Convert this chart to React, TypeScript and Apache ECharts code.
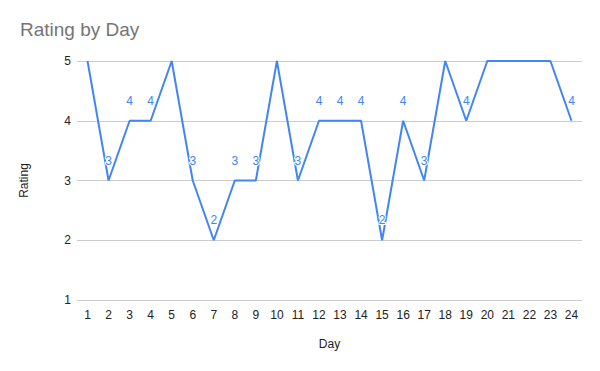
import React, { useEffect, useRef } from "react";
import * as echarts from "echarts";

const days = ["1","2","3","4","5","6","7","8","9","10","11","12","13","14","15","16","17","18","19","20","21","22","23","24"];
const ratings = [5,3,4,4,5,3,2,3,3,5,3,4,4,4,2,4,3,5,4,5,5,5,5,4];
const yTicks = [1, 2, 3, 4, 5];

export default function App() {
  const ref = useRef<HTMLDivElement>(null);
  useEffect(() => {
    const chart = echarts.init(ref.current!, null, { renderer: "svg" });
    const font = "Arial, 'Liberation Sans', sans-serif";
    chart.setOption({
      animation: false,
      backgroundColor: "#fff",
      title: {
        text: "Rating by Day",
        left: 15,
        top: 15,
        textStyle: { fontFamily: font, fontSize: 19, fontWeight: "normal", color: "#757575" },
      },
      grid: { left: 77, right: 18, top: 61, bottom: 71 },
      xAxis: {
        type: "category",
        data: days,
        boundaryGap: true,
        name: "Day",
        nameLocation: "middle",
        nameGap: 38,
        nameTextStyle: { fontFamily: font, fontSize: 12, color: "#222" },
        axisLine: { show: false },
        axisTick: { show: false },
        axisLabel: { fontFamily: font, fontSize: 12, color: "#222", margin: 9, interval: 0 },
      },
      yAxis: {
        type: "value",
        min: yTicks[0],
        max: yTicks[yTicks.length - 1],
        interval: 1,
        name: "Rating",
        nameLocation: "middle",
        nameGap: 47,
        nameTextStyle: { fontFamily: font, fontSize: 12, color: "#222" },
        axisLine: { show: false },
        axisTick: { show: false },
        axisLabel: { fontFamily: font, fontSize: 12, color: "#222", margin: 6 },
        splitLine: { lineStyle: { color: "#cccccc", width: 1 } },
      },
      series: [
        {
          type: "line",
          data: ratings.map((v) => ({
            value: v,
            label: { show: v < 5 },
          })),
          showSymbol: true,
          symbol: "circle",
          symbolSize: 0,
          itemStyle: { color: "#4285F4" },
          lineStyle: { color: "#4285F4", width: 2 },
          label: {
            show: true,
            position: "top",
            distance: 14,
            fontFamily: font,
            fontSize: 12,
            color: "#4285F4",
            textBorderColor: "#fff",
            textBorderWidth: 2,
          },
        },
      ],
    });
    return () => chart.dispose();
  }, []);
  return <div ref={ref} style={{ width: 600, height: 371, position: "absolute", left: 0, top: 0 }} />;
}
